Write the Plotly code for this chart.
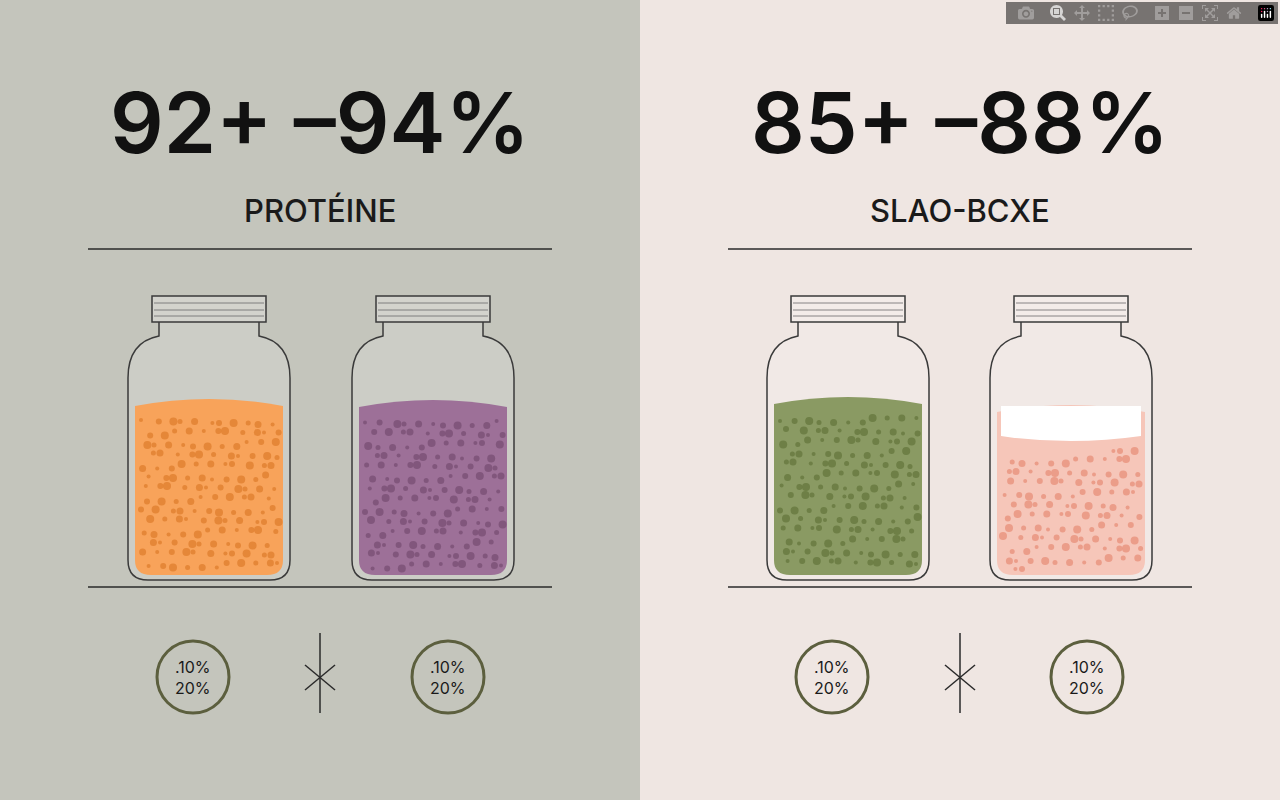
import plotly.graph_objects as go

# panel content
panel_centers = [320, 960]
panel_bg = ["#c4c5bc", "#efe6e2"]
headlines = ["92+ –94%", "85+ –88%"]
subtitles = ["PROTÉINE", "SLAO-BCXE"]

# jars: centre x, fill level (y of liquid top), colour, speckle colour
jar_x = [209, 433, 848, 1071]
jar_level = [402, 403, 400, 408]
jar_fill = ["#f8a35a", "#9d7098", "#8a9a63", "#f6c6b9"]
jar_dots = ["#e0802f", "#7a5076", "#66783f", "#e8927d"]

badge_x = [193, 448, 832, 1087]
badge_text = [".10%<br>20%"] * 4

fig = go.Figure()
shapes = []
for i, cx in enumerate(panel_centers):
    shapes.append(dict(type="rect", x0=cx - 320, x1=cx + 320, y0=0, y1=800,
                       fillcolor=panel_bg[i], line_width=0, layer="below"))
    for y in (249, 587):
        shapes.append(dict(type="line", x0=cx - 232, x1=cx + 232, y0=y, y1=y,
                           line=dict(color="#2a2a2a", width=1.5)))
    # cross mark
    shapes.append(dict(type="line", x0=cx, x1=cx, y0=633, y1=713, line=dict(color="#2a2a2a", width=1.5)))
    shapes.append(dict(type="line", x0=cx - 15, x1=cx + 15, y0=665, y1=690, line=dict(color="#2a2a2a", width=1.5)))
    shapes.append(dict(type="line", x0=cx - 15, x1=cx + 15, y0=690, y1=665, line=dict(color="#2a2a2a", width=1.5)))
    fig.add_annotation(x=cx, y=122, text=headlines[i], showarrow=False,
                       font=dict(family="Inter", size=84, color="#111", weight=600))
    fig.add_annotation(x=cx, y=210, text=subtitles[i], showarrow=False,
                       font=dict(family="Inter", size=31, color="#1a1a1a", weight=500))

for j, cx in enumerate(jar_x):
    lv = jar_level[j]
    glass = (f"M {cx-50},{322} L {cx-50},{336} Q {cx-81},{342} {cx-81},{378} L {cx-81},{560} "
             f"Q {cx-81},{580} {cx-61},{580} L {cx+61},{580} Q {cx+81},{580} {cx+81},{560} "
             f"L {cx+81},{378} Q {cx+81},{342} {cx+50},{336} L {cx+50},{322}")
    shapes.append(dict(type="path", path=glass, line_width=0, layer="below",
                       fillcolor="rgba(255,255,255,0.15)"))
    # liquid
    liquid = (f"M {cx-74},{lv+4} Q {cx},{lv-10} {cx+74},{lv+4} L {cx+74},{560} "
              f"Q {cx+74},{575} {cx+58},{575} L {cx-58},{575} Q {cx-74},{575} {cx-74},{560} Z")
    shapes.append(dict(type="path", path=liquid, fillcolor=jar_fill[j], line_width=0, layer="below"))
    if j == 3:
        shapes.append(dict(type="path", line_width=0, fillcolor="white", layer="below",
                           path=f"M {cx-70},{lv-2} L {cx+70},{lv-2} L {cx+70},{lv+28} Q {cx},{lv+38} {cx-70},{lv+28} Z"))
    # speckles
    xs, ys = [], []
    for r in range(14):
        for c in range(11):
            k = (r * 7 + c * 13 + j * 5) % 17
            px = cx - 68 + c * 13 + (k % 5) * 1.6 + (r % 2) * 6
            py = lv + 18 + r * 11 + (k % 4) * 1.5
            if j == 3 and py < lv + 42:
                continue
            if py < 570 and abs(px - cx) < 70:
                xs.append(px); ys.append(py)
    fig.add_trace(go.Scatter(x=xs, y=ys, mode="markers", hoverinfo="skip",
                             marker=dict(size=[4 + (n * 7 % 5) for n in range(len(xs))],
                                         color=jar_dots[j], opacity=0.8, line_width=0)))
    # glass outline
    shapes.append(dict(type="path", path=glass, line=dict(color="#3a3a3a", width=1.5)))
    shapes.append(dict(type="rect", x0=cx - 57, x1=cx + 57, y0=296, y1=322,
                       line=dict(color="#3a3a3a", width=1.5), fillcolor="rgba(255,255,255,0.25)"))
    for y in (303, 310, 316):
        shapes.append(dict(type="line", x0=cx - 55, x1=cx + 55, y0=y, y1=y,
                           line=dict(color="#6a6a6a", width=0.8)))

for b, bx in enumerate(badge_x):
    shapes.append(dict(type="circle", x0=bx - 36, x1=bx + 36, y0=641, y1=713,
                       line=dict(color="#5c5f3e", width=3)))
    fig.add_annotation(x=bx, y=677, text=badge_text[b], showarrow=False,
                       font=dict(family="Inter", size=16, color="#1a1a1a"))

fig.update_layout(width=1280, height=800, margin=dict(l=0, r=0, t=0, b=0),
                  shapes=shapes, showlegend=False, plot_bgcolor="rgba(0,0,0,0)",
                  paper_bgcolor="rgba(0,0,0,0)",
                  xaxis=dict(range=[0, 1280], visible=False),
                  yaxis=dict(range=[800, 0], visible=False))
fig.write_html("out.html", post_script="document.body.style.margin='0';")
